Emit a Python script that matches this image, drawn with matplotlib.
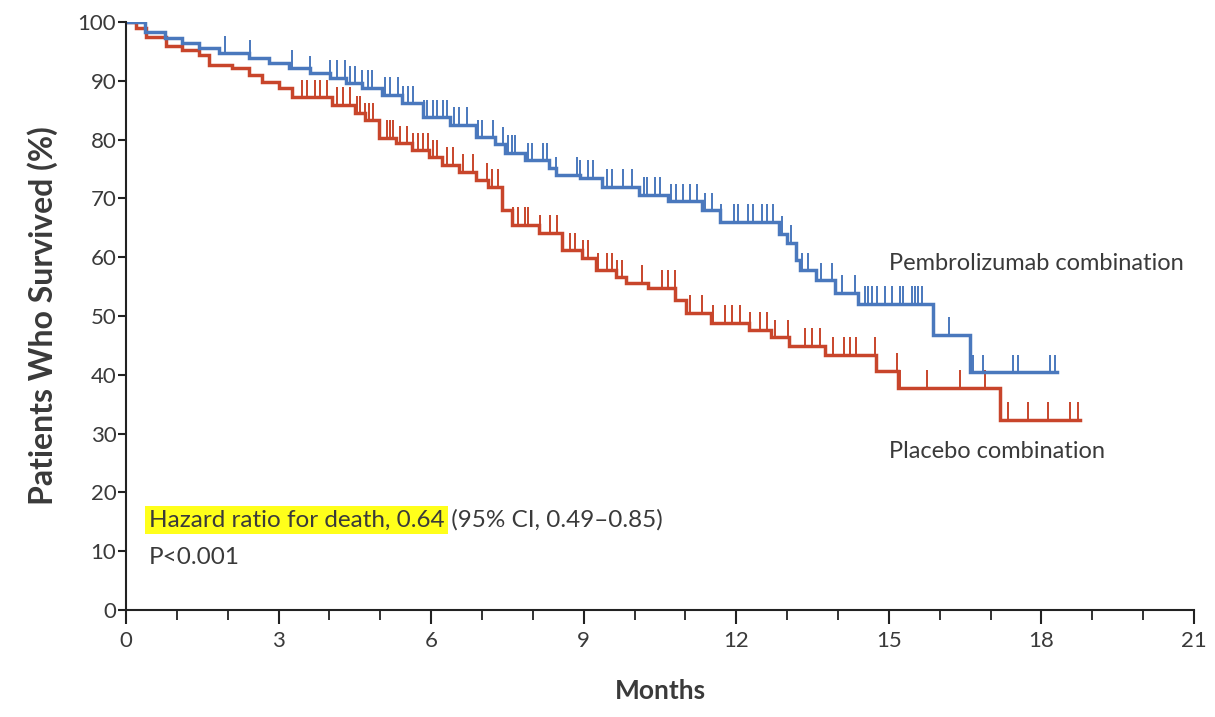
import numpy as np
import matplotlib
matplotlib.use("Agg")
import matplotlib.pyplot as plt
from matplotlib.ticker import MultipleLocator

# Courbes de Kaplan-Meier (mois, % survivants)
pembro_t = [0, 0.37, 0.77, 1.10, 1.44, 1.83, 2.42, 2.81, 3.20, 3.62, 4.01, 4.33, 4.64,
            5.03, 5.43, 5.84, 6.37, 6.88, 7.26, 7.45, 7.85, 8.32, 8.45, 8.93, 9.36,
            10.09, 10.66, 11.33, 11.68, 12.84, 13.0, 13.17, 13.25, 13.57, 13.94, 14.39,
            15.87, 16.60, 18.30]
pembro_s = [100, 98.3, 97.3, 96.4, 95.6, 94.7, 93.9, 93.0, 92.2, 91.3, 90.5, 89.6, 88.8,
            87.6, 86.2, 83.8, 82.5, 80.4, 79.2, 77.7, 76.5, 75.2, 74.0, 73.5, 72.0,
            70.6, 69.5, 68.0, 66.0, 64.0, 62.4, 59.5, 57.8, 56.1, 53.9, 52.1,
            46.8, 40.4, 40.4]

placebo_t = [0, 0.20, 0.39, 0.79, 1.10, 1.44, 1.63, 2.08, 2.42, 2.67, 3.00, 3.26, 4.05,
             4.50, 4.70, 4.97, 5.31, 5.62, 5.96, 6.21, 6.55, 6.88, 7.12, 7.39, 7.59,
             8.12, 8.57, 8.97, 9.24, 9.63, 9.83, 10.26, 10.80, 11.01, 11.50, 12.25,
             12.68, 13.04, 13.74, 14.75, 15.18, 17.18, 18.76]
placebo_s = [100, 99.0, 97.4, 96.0, 95.2, 94.4, 92.7, 92.2, 91.0, 89.8, 88.8, 87.2, 85.9,
             84.5, 83.3, 80.3, 79.4, 78.2, 77.0, 75.7, 74.5, 73.1, 72.0, 68.0, 65.5,
             64.1, 61.2, 59.9, 57.8, 56.6, 55.6, 54.8, 52.7, 50.5, 48.8, 47.6,
             46.4, 44.9, 43.4, 40.7, 37.8, 32.3, 32.3]

# Temps des patients censurés
pembro_cens = [1.95, 2.44, 3.26, 3.62, 4.01, 4.15, 4.31, 4.40, 4.50, 4.64, 4.76, 4.84,
               5.09, 5.19, 5.35, 5.45, 5.54, 5.64, 5.86, 5.92, 6.04, 6.11, 6.23, 6.31,
               6.45, 6.55, 6.70, 6.92, 7.00, 7.22, 7.41, 7.51, 7.59, 7.65, 7.90, 7.98,
               8.20, 8.28, 8.45, 8.87, 8.93, 9.08, 9.18, 9.46, 9.56, 9.77, 9.95, 10.18,
               10.24, 10.40, 10.50, 10.72, 10.81, 10.95, 11.09, 11.23, 11.38, 11.52,
               11.70, 11.95, 12.03, 12.23, 12.33, 12.50, 12.60, 12.72, 12.90, 13.07,
               13.29, 13.41, 13.67, 13.88, 14.08, 14.33, 14.53, 14.59, 14.67, 14.77,
               14.92, 15.06, 15.22, 15.28, 15.45, 15.51, 15.57, 15.65, 16.18, 16.65,
               16.85, 17.44, 17.54, 18.17, 18.27]
placebo_cens = [3.46, 3.56, 3.72, 3.81, 3.95, 4.15, 4.27, 4.40, 4.54, 4.60, 4.70, 4.78,
                4.86, 5.13, 5.19, 5.25, 5.39, 5.52, 5.64, 5.74, 5.84, 5.94, 6.04, 6.11,
                6.31, 6.43, 6.63, 6.82, 7.10, 7.20, 7.31, 7.41, 7.61, 7.71, 7.85, 7.90,
                8.14, 8.34, 8.47, 8.73, 8.83, 8.99, 9.08, 9.28, 9.46, 9.56, 9.65, 9.75,
                10.15, 10.54, 10.66, 10.79, 11.09, 11.33, 11.54, 11.78, 11.92, 12.07,
                12.27, 12.47, 12.60, 12.76, 13.02, 13.35, 13.49, 13.65, 13.90, 14.12,
                14.24, 14.35, 14.73, 15.16, 15.22, 15.75, 16.40, 16.89, 17.34, 17.73,
                18.13, 18.56, 18.72]

BLUE = '#4a78bd'
RED = '#c8452b'
TXT = '#3a3a3a'


def km_value(t_knots, s_knots, t):
    idx = np.searchsorted(t_knots, t, side='right') - 1
    return np.asarray(s_knots)[idx]


plt.rcParams['font.family'] = ['Lato', 'DejaVu Sans']

fig = plt.figure(figsize=(12.15, 7.17), dpi=100)
ax = fig.add_axes([0.1037, 0.1492, 0.879, 0.8201])

for t_k, s_k, cens, col in [(placebo_t, placebo_s, placebo_cens, RED),
                            (pembro_t, pembro_s, pembro_cens, BLUE)]:
    ax.step(t_k, s_k, where='post', color=col, lw=2.5, solid_joinstyle='miter')
    cy = km_value(t_k, s_k, cens)
    ax.vlines(cens, cy, cy + 3.0, color=col, lw=1.4)

ax.set_xlim(0, 21)
ax.set_ylim(0, 100)
ax.xaxis.set_major_locator(MultipleLocator(3))
ax.xaxis.set_minor_locator(MultipleLocator(1))
ax.yaxis.set_major_locator(MultipleLocator(10))

for s in ['top', 'right']:
    ax.spines[s].set_visible(False)
for s in ['left', 'bottom']:
    ax.spines[s].set_linewidth(1.5)
    ax.spines[s].set_color('#222222')

ax.tick_params(axis='x', which='major', length=10, width=1.5, color='#222222',
               labelsize=16, labelcolor=TXT, pad=5)
ax.tick_params(axis='x', which='minor', length=7, width=1.3, color='#222222')
ax.tick_params(axis='y', which='major', length=6, width=1.5, color='#222222',
               labelsize=16, labelcolor=TXT, pad=1)

ax.set_xlabel('Months', fontsize=19, fontweight='bold', color=TXT, labelpad=20)
ax.set_ylabel('Patients Who Survived (%)', fontsize=23, fontweight='bold', color=TXT,
              labelpad=14)

ax.text(15.0, 59, 'Pembrolizumab combination', fontsize=17, color=TXT, va='center')
ax.text(15.0, 27, 'Placebo combination', fontsize=17, color=TXT, va='center')

hr = ax.text(0.45, 15.3, 'Hazard ratio for death, 0.64', fontsize=17.5, color=TXT,
             va='center',
             bbox=dict(boxstyle='square,pad=0.15', fc='#ffff1a', ec='none'))
ax.annotate(' (95% CI, 0.49\u20130.85)', xy=(1, 0.5), xycoords=hr, va='center',
            fontsize=17.5, color=TXT)
ax.text(0.45, 9.0, 'P<0.001', fontsize=17.5, color=TXT, va='center')

fig.savefig('out.png', dpi=100)
